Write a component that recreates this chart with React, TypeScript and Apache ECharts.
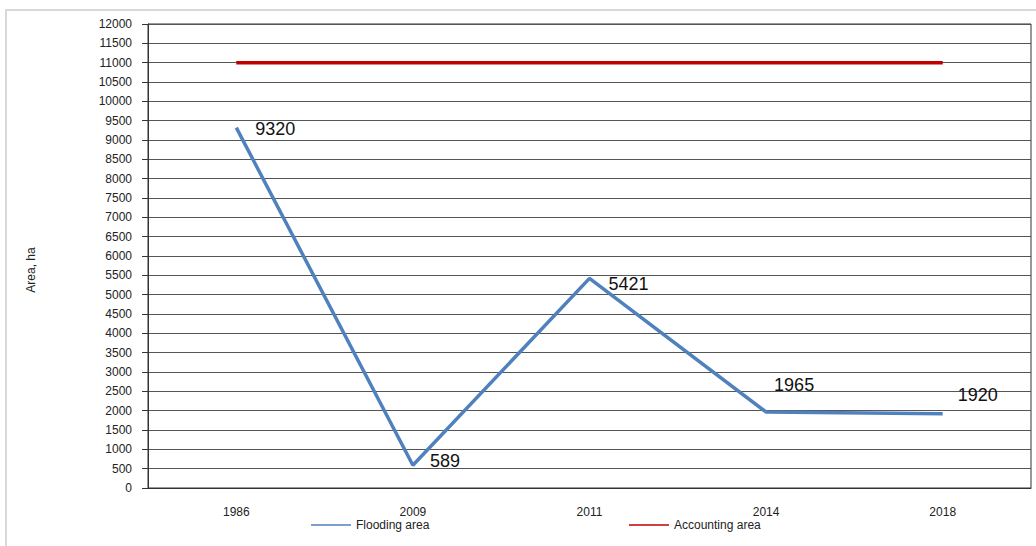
import React, { useEffect, useRef } from "react";
import * as echarts from "echarts";

const years = ["1986", "2009", "2011", "2014", "2018"];
const flooding = [9320, 589, 5421, 1965, 1920];
const accounting = [11000, 11000, 11000, 11000, 11000];
const labelOffsets: [number, number][] = [
  [14, 1],
  [12, -4],
  [14, 6],
  [3, -27],
  [10, -19],
];

export default function App() {
  const ref = useRef<HTMLDivElement>(null);
  useEffect(() => {
    if (!ref.current) return;
    const chart = echarts.init(ref.current, undefined, { renderer: "svg" });
    const font = "Arial, 'Liberation Sans', sans-serif";
    chart.setOption({
      animation: false,
      backgroundColor: "#fff",
      textStyle: { fontFamily: font },
      graphic: [
        {
          type: "rect",
          shape: { x: 6, y: 10, width: 1060, height: 600 },
          style: { fill: "none", stroke: "#d9d9d9", lineWidth: 2 },
          silent: true,
        },
        {
          type: "text",
          x: 31,
          y: 270,
          rotation: Math.PI / 2,
          style: {
            text: "Area, ha",
            fontSize: 12,
            fill: "#222",
            fontFamily: font,
            align: "center",
            verticalAlign: "middle",
          },
          silent: true,
        },
      ],
      grid: {
        left: 148,
        right: 5,
        top: 24,
        bottom: 58,
        show: true,
        borderColor: "#333",
        borderWidth: 1,
      },
      legend: [
        {
          data: ["Flooding area"],
          left: 306,
          top: 514,
          itemWidth: 40,
          itemHeight: 8,
          icon: "path://M0,3.25H40V4.75H0Z",
          textStyle: { fontSize: 12, color: "#222", fontFamily: font },
          itemGap: 4,
        },
        {
          data: ["Accounting area"],
          left: 624,
          top: 514,
          itemWidth: 40,
          itemHeight: 8,
          icon: "path://M0,3.25H40V4.75H0Z",
          textStyle: { fontSize: 12, color: "#222", fontFamily: font },
        },
      ],
      xAxis: {
        type: "category",
        data: years,
        boundaryGap: true,
        axisLine: { show: true, lineStyle: { color: "#333" } },
        axisTick: { show: false },
        axisLabel: { fontSize: 12, color: "#222", margin: 18, fontFamily: font },
      },
      yAxis: {
        type: "value",
        min: 0,
        max: 12000,
        interval: 500,
        axisLine: { show: true, lineStyle: { color: "#333" } },
        axisTick: { show: true, length: 6, lineStyle: { color: "#333" } },
        axisLabel: {
          fontSize: 12,
          color: "#222",
          margin: 16,
          fontFamily: font,
          formatter: (v: number) => String(v),
        },
        splitLine: { show: true, lineStyle: { color: "#555", width: 1 } },
      },
      series: [
        {
          name: "Flooding area",
          type: "line",
          data: flooding.map((v, i) => ({
            value: v,
            label: { offset: labelOffsets[i] },
          })),
          symbol: "circle",
          symbolSize: 0,
          showSymbol: true,
          lineStyle: { color: "#4F81BD", width: 3.5 },
          itemStyle: { color: "#4F81BD" },
          label: {
            show: true,
            position: "right",
            fontSize: 18,
            color: "#111",
            fontFamily: font,
          },
        },
        {
          name: "Accounting area",
          type: "line",
          data: accounting,
          symbol: "none",
          lineStyle: { color: "#C00000", width: 3.5 },
          itemStyle: { color: "#C00000" },
        },
      ],
    });
    return () => chart.dispose();
  }, []);
  return (
    <div
      ref={ref}
      style={{ position: "fixed", left: 0, top: 0, width: 1036, height: 546 }}
    />
  );
}
